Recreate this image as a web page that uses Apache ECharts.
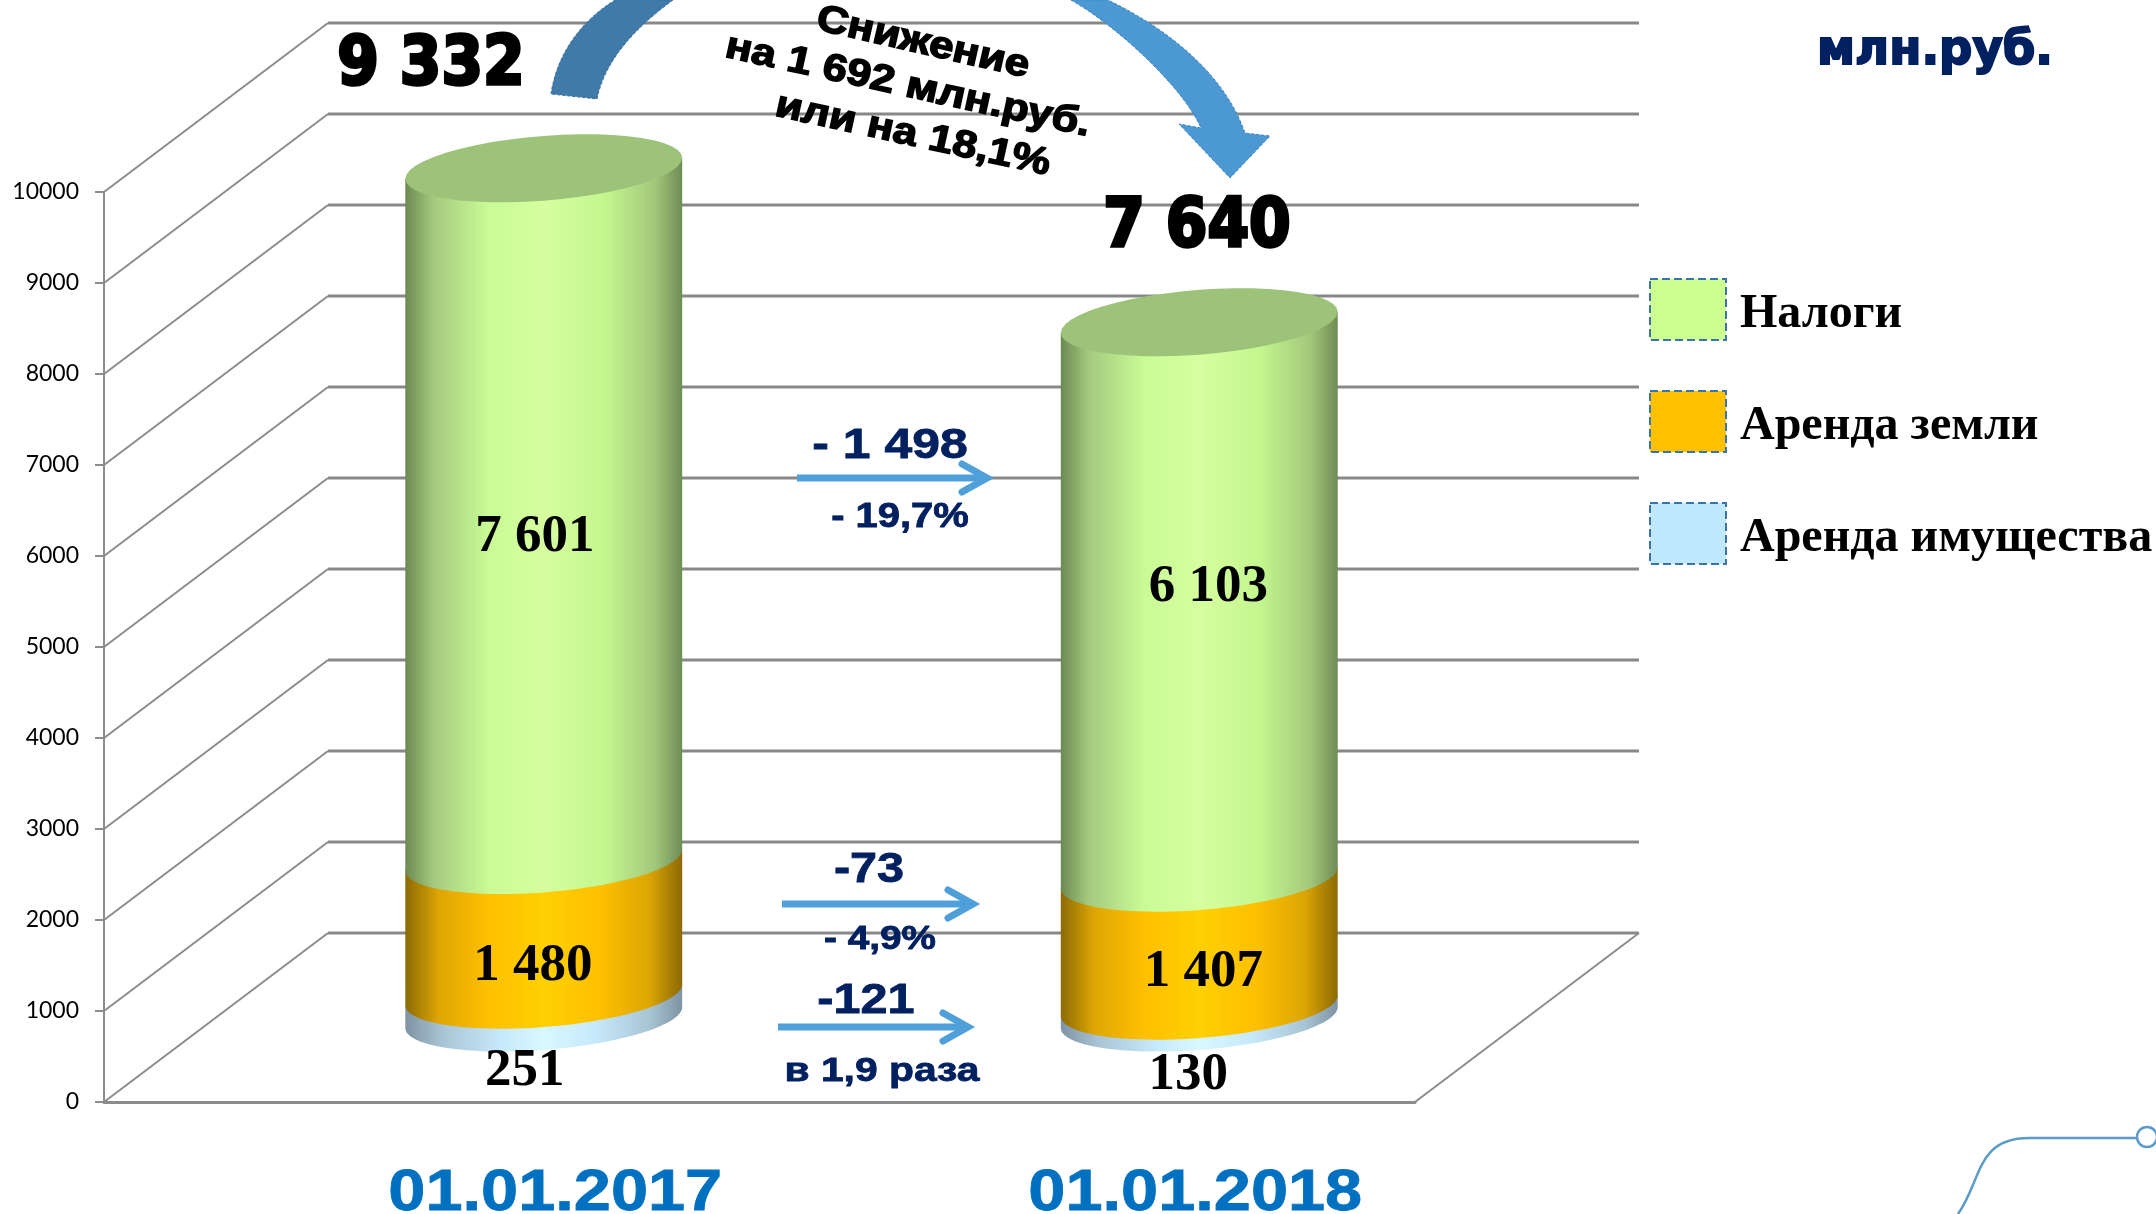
<!DOCTYPE html>
<html>
<head>
<meta charset="utf-8">
<style>html,body{margin:0;padding:0;background:#fff}#c{width:2156px;height:1214px}</style>
<script src="https://cdn.jsdelivr.net/npm/echarts@6/dist/echarts.min.js"></script>
</head>
<body>
<div id="c"></div>
<script>
// ---------- data ----------
const categories = ['01.01.2017', '01.01.2018'];
const propertyRent = [251, 130];
const landRent = [1480, 1407];
const taxes = [7601, 6103];
const totals = [9332, 7640];
const yTicks = [0, 1000, 2000, 3000, 4000, 5000, 6000, 7000, 8000, 9000, 10000];
const seriesNames = ['Налоги', 'Аренда земли', 'Аренда имущества'];
const deltaTaxes = ['- 1 498', '- 19,7%'];
const deltaLand = ['-73', '- 4,9%'];
const deltaProperty = ['-121', 'в 1,9 раза'];
const summaryLines = ['Снижение', 'на 1 692 млн.руб.', 'или на 18,1%'];
const unitLabel = 'млн.руб.';

// ---------- oblique projection & style ----------
const DEPTH_X = 224, DEPTH_Y = -169;          // full depth of the floor
const BAR_X = DEPTH_X / 2, BAR_Y = DEPTH_Y / 2;  // cylinders stand mid-depth
const GRID = {left: 104, right: 741, top: 192, bottom: 112};
const GREY = '#8c8c8c', NAVY = '#002060';
const SERIF = '"Liberation Serif"', SANS = '"Liberation Sans"', WIDE = '"DejaVu Sans"';
const G = (stops) => new echarts.graphic.LinearGradient(0, 0, 1, 0, stops.map((c) => ({offset: c[0], color: c[1]})));
const GREEN = [[0,'#6b8a52'],[0.1,'#a4c97e'],[0.3,'#c9fb95'],[0.5,'#d6ff9f'],[0.72,'#c4f68f'],[0.9,'#a3c87b'],[1,'#6e8c55']];
const ORANGE = [[0,'#8c6a05'],[0.12,'#dda604'],[0.3,'#ffc000'],[0.5,'#ffd002'],[0.7,'#ffc000'],[0.88,'#dca604'],[1,'#8c6a05']];
const BLUE = [[0,'#7e93a3'],[0.14,'#aac6d6'],[0.35,'#c7eafc'],[0.5,'#d8f8ff'],[0.68,'#c7eafc'],[0.88,'#a9c5d5'],[1,'#7e93a3']];
// label nudges from the mid-height of each segment, per category
const NUDGE_TAX = [[-9, 23], [9, -13]];
const NUDGE_LAND = [[-11, 39], [4, 31]];
const NUDGE_PROP = [[-19, 65], [-11, 64]];

function ring(cx, cy, a, t0, t1, out) {
  const p = -10.5, q = 32.4, n = 48;
  for (let i = 0; i <= n; i++) {
    const t = t0 + (t1 - t0) * i / n;
    out.push([cx + a * Math.cos(t), cy + p * Math.cos(t) + q * Math.sin(t)]);
  }
  return out;
}
function txt(s, x, y, font, fill, o) {
  o = o || {};
  return {type: 'text', x: x, y: y, rotation: o.rot || 0, scaleX: o.sx || 1, scaleY: 1,
    style: {text: s, font: font, fill: fill, align: 'center', verticalAlign: 'middle',
      stroke: o.stroke || null, lineWidth: o.lw || 0}};
}

function cylinder(lowers, stops, nudge, isTop) {
  return function (params, api) {
    const i = api.value(0), v = api.value(1), lo = lowers(i), hi = lo + v;
    const a = api.size([1, 0])[0] * 0.2112;
    const base = api.coord([i, lo]), top = api.coord([i, hi]);
    const cx = base[0] + BAR_X, yb = base[1] + BAR_Y, yt = top[1] + BAR_Y;
    const pts = ring(cx, yb, a, 0, Math.PI, [[cx + a, yt - 10.5]]);
    pts.push([cx - a, yt + 10.5]);
    const kids = [{type: 'polygon', shape: {points: pts}, style: {fill: G(stops)}}];
    if (isTop) {
      kids.push({type: 'polygon', shape: {points: ring(cx, yt, a, 0, Math.PI * 2, [])}, style: {fill: '#9dc279'}});
    }
    const text = String(v).replace(/(\d)(\d{3})$/, '$1 $2');
    kids.push(txt(text, cx + nudge[i][0], (yb + yt) / 2 + nudge[i][1], 'bold 53px ' + SERIF, '#000'));
    return {type: 'group', children: kids};
  };
}

function gridLines(params, api) {
  const cs = params.coordSys, y = api.coord([0, api.value(1)])[1];
  const l = cs.x, bx = l + DEPTH_X, by = y + DEPTH_Y, r = cs.x + cs.width + DEPTH_X;
  return {type: 'group', children: [
    {type: 'line', shape: {x1: l, y1: y, x2: bx, y2: by}, style: {stroke: GREY, lineWidth: 2}},
    {type: 'line', shape: {x1: bx, y1: by, x2: r, y2: by}, style: {stroke: '#888888', lineWidth: 3}}
  ]};
}
function floorEdge(params, api) {
  const cs = params.coordSys, y = cs.y + cs.height;
  const r = cs.x + cs.width;
  return {type: 'line', shape: {x1: r, y1: y, x2: r + DEPTH_X, y2: y + DEPTH_Y},
    style: {stroke: GREY, lineWidth: 2}};
}

function arrow(x0, x1, y) {
  const c = '#4f9fd8';
  return [
    {type: 'rect', shape: {x: x0, y: y - 3.5, width: x1 - x0 - 6, height: 7}, style: {fill: c}},
    {type: 'polyline', shape: {points: [[x1 - 27, y - 14], [x1 - 2, y], [x1 - 27, y + 14]]},
      style: {stroke: c, lineWidth: 7, lineCap: 'round', lineJoin: 'miter', fill: null}}
  ];
}

function annotations(params, api) {
  const mid = (i) => api.coord([i, 0])[0];
  const heavy = {sx: 0.88, stroke: '#000', lw: 3.5};
  const kids = [
    // curved summary arrow
    {type: 'path', shape: {pathData: 'M551 94 C556 60 575 25 615 0 L673 0 C635 28 605 60 597 99 Z'},
      style: {fill: '#3f7aa9', stroke: '#3a74a3', lineWidth: 1, lineDash: [3, 2]}},
    {type: 'path', shape: {pathData: 'M1071 0 C1120 28 1185 90 1201 128 L1179 124 L1230 178 L1270 136 L1245 133 C1225 75 1170 30 1108 0 Z'},
      style: {fill: '#4b98d3', stroke: '#3f85bc', lineWidth: 1, lineDash: [3, 2]}},
    // totals
    txt(totals[0].toString().replace(/(\d)(\d{3})$/, '$1 $2'), 431, 66, 'bold 68px ' + WIDE, '#000', heavy),
    txt(totals[1].toString().replace(/(\d)(\d{3})$/, '$1 $2'), 1197, 228, 'bold 68px ' + WIDE, '#000', heavy),
    // summary
    txt(summaryLines[0], 923, 43, 'bold 38px ' + SANS, '#000', {sx: 1.15, rot: -0.225, stroke: '#000', lw: 1.5}),
    txt(summaryLines[1], 908, 86, 'bold 38px ' + SANS, '#000', {sx: 1.15, rot: -0.215, stroke: '#000', lw: 1.5}),
    txt(summaryLines[2], 913, 135, 'bold 38px ' + SANS, '#000', {sx: 1.15, rot: -0.215, stroke: '#000', lw: 1.5}),
    // unit
    txt(unitLabel, 1935, 52, 'bold 48px ' + WIDE, NAVY, {sx: 0.97, stroke: NAVY, lw: 2}),
    // change labels
    txt(deltaTaxes[0], 890, 446, 'bold 43px ' + SANS, NAVY, {sx: 1.16, stroke: NAVY, lw: 0.8}),
    txt(deltaTaxes[1], 900, 517, 'bold 35px ' + SANS, NAVY, {sx: 1.14, stroke: NAVY, lw: 0.8}),
    txt(deltaLand[0], 869, 870, 'bold 43px ' + SANS, NAVY, {sx: 1.13, stroke: NAVY, lw: 0.8}),
    txt(deltaLand[1], 880, 940, 'bold 34px ' + SANS, NAVY, {sx: 1.14, stroke: NAVY, lw: 0.8}),
    txt(deltaProperty[0], 866, 1001, 'bold 43px ' + SANS, NAVY, {sx: 1.13, stroke: NAVY, lw: 0.8}),
    txt(deltaProperty[1], 882, 1072, 'bold 34px ' + SANS, NAVY, {sx: 1.2, stroke: NAVY, lw: 0.8}),
    // category labels (stretched horizontally, like the reference)
    txt(categories[0], mid(0) + 123.5, 1194, 'bold 58px ' + SANS, '#0070c0', {sx: 1.15, stroke: '#0070c0', lw: 0.8}),
    txt(categories[1], mid(1) + 108, 1194, 'bold 58px ' + SANS, '#0070c0', {sx: 1.15, stroke: '#0070c0', lw: 0.8}),
    // corner decoration
    {type: 'path', shape: {pathData: 'M1958 1214 C1982 1180 1976 1138 2029 1138 L2137 1138'},
      style: {stroke: '#5b9bc8', lineWidth: 2.5, fill: null}},
    {type: 'circle', shape: {cx: 2147, cy: 1137, r: 10}, style: {fill: '#fff', stroke: '#5b9bc8', lineWidth: 2.5}}
  ].concat(arrow(797, 989, 478), arrow(782, 975, 904), arrow(778, 970, 1027));
  return {type: 'group', children: kids};
}

const asPairs = (arr) => arr.map((v, i) => [i, v]);
const legendBox = (name, color) => ({name: name, icon: 'rect',
  itemStyle: {color: color, borderColor: '#3a74a8', borderWidth: 2, borderType: 'dashed'}});

const chart = echarts.init(document.getElementById('c'), null, {renderer: 'canvas'});
chart.setOption({
  backgroundColor: '#ffffff',
  animation: false,
  grid: GRID,
  legend: {
    orient: 'vertical', left: 1649, top: 278, padding: 0,
    itemWidth: 76, itemHeight: 61, itemGap: 49,
    selectedMode: false,
    formatter: (n) => '{t|' + n + '}',
    textStyle: {
      fontFamily: 'Liberation Serif', fontWeight: 'bold', fontSize: 48, color: '#000',
      rich: {t: {fontFamily: 'Liberation Serif', fontWeight: 'bold', fontSize: 48, color: '#000', padding: [11, 0, 0, 9]}}
    },
    data: [legendBox(seriesNames[0], '#ccff90'), legendBox(seriesNames[1], '#ffc000'), legendBox(seriesNames[2], '#c0e8ff')]
  },
  xAxis: {
    type: 'category', data: categories,
    axisLine: {show: true, lineStyle: {color: GREY, width: 3}},
    axisTick: {show: false}, axisLabel: {show: false}, splitLine: {show: false}
  },
  yAxis: {
    type: 'value', min: 0, max: 10000, interval: 1000,
    axisLine: {show: true, lineStyle: {color: GREY, width: 2}},
    axisTick: {show: true, length: 9, lineStyle: {color: GREY, width: 2}},
    axisLabel: {margin: 25, fontFamily: 'Lato', fontSize: 23, color: '#000', padding: [6, 0, 0, 0],
      formatter: (v) => String(v)},
    splitLine: {show: false}
  },
  series: [
    {type: 'custom', name: 'grid', silent: true, z: 1, renderItem: gridLines, encode: {x: 0, y: 1},
      data: yTicks.map((v) => [0, v])},
    {type: 'custom', name: 'floor', silent: true, z: 1, renderItem: floorEdge, encode: {x: 0, y: 1}, data: [[0, 0]]},
    {type: 'custom', name: seriesNames[2], z: 2, encode: {x: 0, y: 1}, data: asPairs(propertyRent),
      itemStyle: {color: '#c0e8ff'}, renderItem: cylinder(() => 0, BLUE, NUDGE_PROP, false)},
    {type: 'custom', name: seriesNames[1], z: 3, encode: {x: 0, y: 1}, data: asPairs(landRent),
      itemStyle: {color: '#ffc000'}, renderItem: cylinder((i) => propertyRent[i], ORANGE, NUDGE_LAND, false)},
    {type: 'custom', name: seriesNames[0], z: 4, encode: {x: 0, y: 1}, data: asPairs(taxes),
      itemStyle: {color: '#ccff90'}, renderItem: cylinder((i) => propertyRent[i] + landRent[i], GREEN, NUDGE_TAX, true)},
    {type: 'custom', name: 'annotations', silent: true, z: 5, encode: {x: 0, y: 1}, data: [[0, 0]], renderItem: annotations}
  ]
});
</script>
</body>
</html>
